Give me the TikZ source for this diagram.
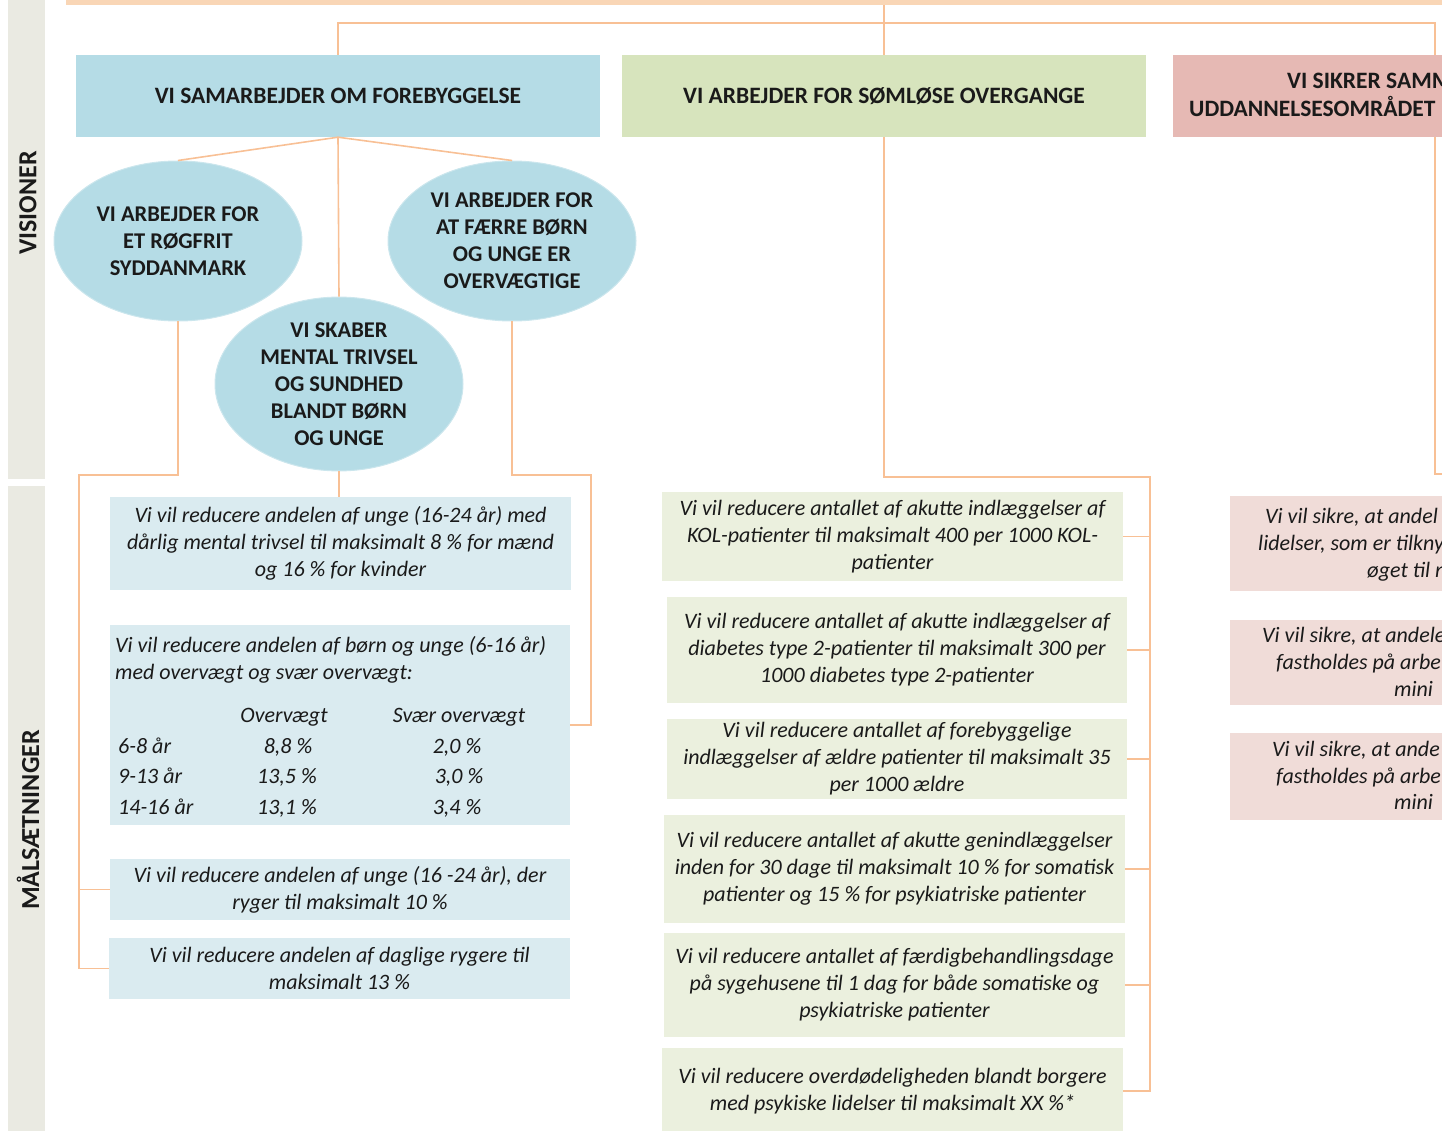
\documentclass[tikz,border=0pt]{standalone}
\usepackage{fontspec}
\setmainfont{Carlito}
\usetikzlibrary{shapes.geometric}
\definecolor{peach}{HTML}{F8C095}
\definecolor{barcol}{HTML}{F9D6B6}
\definecolor{stripcol}{HTML}{EAEAE2}
\definecolor{blueA}{HTML}{B5DCE6}
\definecolor{greenA}{HTML}{D7E4BD}
\definecolor{pinkA}{HTML}{E6B9B4}
\definecolor{blueB}{HTML}{DAEBF0}
\definecolor{greenB}{HTML}{EBF0DE}
\definecolor{pinkB}{HTML}{F0DCD8}
\definecolor{txt}{HTML}{1A1A1A}
\begin{document}
\begin{tikzpicture}[x=1pt,y=-1pt,
  conn/.style={draw=peach,line width=1.6pt},
  vis/.style={font=\fontsize{22.5}{27}\selectfont\bfseries,text=txt,align=center,inner sep=0pt},
  hdrtxt/.style={font=\fontsize{23.5}{28}\selectfont\bfseries,text=txt,align=center,inner sep=0pt},
  hdr/.style={hdrtxt,minimum width=524pt,minimum height=82pt,fill=#1},
  oval/.style={vis,ellipse,fill=blueA,draw=blueA!70!white,line width=1pt,minimum width=248pt,minimum height=160pt},
  goal/.style={font=\fontsize{22}{27}\selectfont\itshape,text=txt,align=center,inner sep=0pt,fill=#1},
  gtxt/.style={font=\fontsize{22}{27}\selectfont\itshape,text=txt,inner sep=0pt},
  striplab/.style={font=\fontsize{26}{30}\selectfont\bfseries,text=txt,rotate=90,inner sep=0pt}]
\useasboundingbox (0,0) rectangle (1442,1131);
\clip (0,0) rectangle (1442,1131);

% side strips
\node[fill=stripcol,minimum width=37pt,minimum height=479pt,inner sep=0pt,anchor=north west] (s1) at (8,0) {};
\node[fill=stripcol,minimum width=37pt,minimum height=646pt,inner sep=0pt,anchor=north west] (s2) at (8,486) {};
\node[striplab] (s1l) at (28,203) {VISIONER};
\node[striplab] (s2l) at (28,820) {MÅLSÆTNINGER};

% top bar
\node[fill=barcol,minimum width=1376pt,minimum height=5pt,inner sep=0pt,anchor=north west] (topbar) at (66,0) {};

% headers
\node[hdr=blueA] (b1) at (338,96) {VI SAMARBEJDER OM FOREBYGGELSE};
\node[hdr=greenA] (b2) at (884,96) {VI ARBEJDER FOR SØMLØSE OVERGANGE};
\node[hdr=pinkA] (b3) at (1435,96) {};
\node[hdrtxt,anchor=base west] (b3a) at (1287,89) {VI SIKRER SAMM};
\node[hdrtxt,anchor=base west] (b3b) at (1189,117) {UDDANNELSESOMRÅDET};

% ellipses
\node[oval] (e1) at (178,241) {VI ARBEJDER FOR\\ET RØGFRIT\\SYDDANMARK};
\node[oval] (e2) at (512,241) {VI ARBEJDER FOR\\AT FÆRRE BØRN\\OG UNGE ER\\OVERVÆGTIGE};
\node[oval] (e3) at (339,384) {VI SKABER\\MENTAL TRIVSEL\\OG SUNDHED\\BLANDT BØRN\\OG UNGE};

% column 1 goals
\node[goal=blueB,minimum width=461pt,minimum height=93pt] (g1) at (340.5,543.5)
  {Vi vil reducere andelen af unge (16-24 år) med\\dårlig mental trivsel til maksimalt 8 \% for mænd\\og 16 \% for kvinder};
\node[fill=blueB,minimum width=460pt,minimum height=200pt,inner sep=0pt] (g2) at (340,725) {};
\node[gtxt,anchor=base west] (g2a) at (115,652) {Vi vil reducere andelen af børn og unge (6-16 år)};
\node[gtxt,anchor=base west] (g2b) at (115,679) {med overvægt og svær overvægt:};
\node[gtxt,anchor=base] (h1) at (284,722) {Overvægt};
\node[gtxt,anchor=base] (h2) at (459,722) {Svær overvægt};
\node[gtxt,anchor=base west] (r1a) at (118,753) {6-8 år};
\node[gtxt,anchor=base] (r1b) at (288,753) {8,8 \%};
\node[gtxt,anchor=base] (r1c) at (457,753) {2,0 \%};
\node[gtxt,anchor=base west] (r2a) at (118,783) {9-13 år};
\node[gtxt,anchor=base] (r2b) at (287,783) {13,5 \%};
\node[gtxt,anchor=base] (r2c) at (459,783) {3,0 \%};
\node[gtxt,anchor=base west] (r3a) at (118,814) {14-16 år};
\node[gtxt,anchor=base] (r3b) at (287,814) {13,1 \%};
\node[gtxt,anchor=base] (r3c) at (457,814) {3,4 \%};
\node[goal=blueB,minimum width=460pt,minimum height=61pt] (g3) at (340,889.5)
  {Vi vil reducere andelen af unge (16 -24 år), der\\ryger til maksimalt 10 \%};
\node[goal=blueB,minimum width=461pt,minimum height=61pt] (g4) at (339.5,968.5)
  {Vi vil reducere andelen af daglige rygere til\\maksimalt 13 \%};

% column 2 goals
\node[goal=greenB,minimum width=461pt,minimum height=89pt] (g5) at (892.5,536.5)
  {Vi vil reducere antallet af akutte indlæggelser af\\KOL-patienter til maksimalt 400 per 1000 KOL-\\patienter};
\node[goal=greenB,minimum width=460pt,minimum height=106pt] (g6) at (897,650)
  {Vi vil reducere antallet af akutte indlæggelser af\\diabetes type 2-patienter til maksimalt 300 per\\1000 diabetes type 2-patienter};
\node[goal=greenB,minimum width=460pt,minimum height=80pt] (g7) at (897,759)
  {Vi vil reducere antallet af forebyggelige\\indlæggelser af ældre patienter til maksimalt 35\\per 1000 ældre};
\node[goal=greenB,minimum width=461pt,minimum height=108pt] (g8) at (894.5,869)
  {Vi vil reducere antallet af akutte genindlæggelser\\inden for 30 dage til maksimalt 10 \% for somatisk\\patienter og 15 \% for psykiatriske patienter};
\node[goal=greenB,minimum width=461pt,minimum height=104pt] (g9) at (894.5,985)
  {Vi vil reducere antallet af færdigbehandlingsdage\\på sygehusene til 1 dag for både somatiske og\\psykiatriske patienter};
\node[goal=greenB,minimum width=461pt,minimum height=86pt] (g10) at (892.5,1091)
  {Vi vil reducere overdødeligheden blandt borgere\\med psykiske lidelser til maksimalt XX \%*};

% column 3 goals (cut by the picture edge)
\node[fill=pinkB,minimum width=461pt,minimum height=95pt,inner sep=0pt] (g11) at (1460.5,543.5) {};
\node[gtxt,anchor=base west] (g11a) at (1265,523) {Vi vil sikre, at andel};
\node[gtxt,anchor=base west] (g11b) at (1258,550) {lidelser, som er tilkny};
\node[gtxt,anchor=base west] (g11c) at (1367,577) {øget til m};
\node[fill=pinkB,minimum width=461pt,minimum height=85pt,inner sep=0pt] (g12) at (1460.5,662.5) {};
\node[gtxt,anchor=base west] (g12a) at (1262,642) {Vi vil sikre, at andele};
\node[gtxt,anchor=base west] (g12b) at (1276,669) {fastholdes på arbe};
\node[gtxt,anchor=base west] (g12c) at (1394,696) {mini};
\node[fill=pinkB,minimum width=461pt,minimum height=87pt,inner sep=0pt] (g13) at (1460.5,776.5) {};
\node[gtxt,anchor=base west] (g13a) at (1272,756) {Vi vil sikre, at ande};
\node[gtxt,anchor=base west] (g13b) at (1276,783) {fastholdes på arbe};
\node[gtxt,anchor=base west] (g13c) at (1394,809) {mini};

% connectors
\coordinate (tl) at (338,23);
\coordinate (tr) at (1435,23);
\draw[conn] (b1.north) -- (tl) -- (tr) -- (b3.north);
\draw[conn] (topbar.south -| b2.north) -- (b2.north);

\draw[conn] (b1.south) -- (e1.north);
\draw[conn] (b1.south) -- (e2.north);
\draw[conn] (b1.south) -- (e3.north);
\draw[conn] (e3.south) -- (e3.south |- g1.north);

\coordinate (k1) at (79,475);
\draw[conn] (e1.south) |- (k1) -- (k1 |- g4.west) -- (g4.west);
\draw[conn] (k1 |- g3.west) -- (g3.west);

\coordinate (k2) at (591,475);
\draw[conn] (e2.south) |- (k2) -- (k2 |- g2.east) -- (g2.east);

\coordinate (k3) at (1150,477);
\draw[conn] (b2.south) |- (k3) -- (k3 |- g10.east) -- (g10.east);
\foreach \g in {g5,g6,g7,g8,g9} \draw[conn] (k3 |- \g.east) -- (\g.east);

\coordinate (k4) at (1435,474);
\coordinate (k4e) at (1460,474);
\draw[conn] (b3.south) -- (k4) -- (k4e);
\end{tikzpicture}
\end{document}
